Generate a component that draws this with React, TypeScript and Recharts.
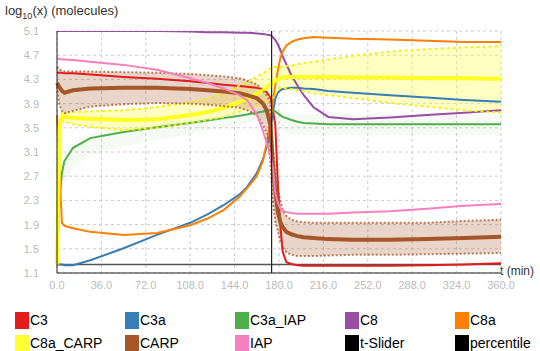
import { ComposedChart, Line, Area, XAxis, YAxis, CartesianGrid, ReferenceLine } from 'recharts';

const times = [0, 2, 4, 6, 13, 27, 54, 81, 108, 122, 135, 148, 154, 162, 167, 170, 173, 175, 177, 179, 181, 183, 186, 190, 195, 200, 208, 220, 240, 270, 300, 330, 360];

const c3 = [4.41, 4.41, 4.41, 4.4, 4.4, 4.38, 4.34, 4.31, 4.27, 4.24, 4.21, 4.19, 4.18, 4.16, 4.14, 4.09, 4.0, 3.8, 3.55, 2.6, 1.9, 1.45, 1.28, 1.25, 1.23, 1.22, 1.22, 1.22, 1.22, 1.22, 1.23, 1.24, 1.26];
const c3a = [1.24, 1.24, 1.24, 1.23, 1.23, 1.31, 1.51, 1.73, 1.93, 2.07, 2.22, 2.4, 2.52, 2.75, 2.98, 3.18, 3.46, 3.75, 3.98, 4.08, 4.12, 4.14, 4.15, 4.16, 4.16, 4.15, 4.14, 4.11, 4.08, 4.04, 4.0, 3.96, 3.93];
const c3aIap = [1.24, 2.3, 2.75, 2.95, 3.17, 3.33, 3.43, 3.51, 3.58, 3.62, 3.66, 3.7, 3.72, 3.75, 3.77, 3.78, 3.79, 3.79, 3.77, 3.74, 3.71, 3.68, 3.66, 3.63, 3.6, 3.58, 3.57, 3.56, 3.56, 3.56, 3.56, 3.56, 3.56];
const c3aIapLo = [1.24, 2.0, 2.4, 2.6, 2.85, 3.05, 3.2, 3.3, 3.4, 3.45, 3.5, 3.55, 3.58, 3.62, 3.65, 3.66, 3.67, 3.66, 3.6, 3.52, 3.47, 3.43, 3.41, 3.39, 3.38, 3.38, 3.38, 3.38, 3.38, 3.38, 3.38, 3.38, 3.38];
const c3aIapHi = [1.24, 2.5, 2.9, 3.05, 3.25, 3.4, 3.5, 3.57, 3.63, 3.67, 3.7, 3.73, 3.75, 3.78, 3.8, 3.81, 3.82, 3.82, 3.8, 3.78, 3.76, 3.75, 3.74, 3.73, 3.73, 3.72, 3.72, 3.72, 3.72, 3.72, 3.72, 3.72, 3.72];
const c8 = [5.1, 5.1, 5.1, 5.1, 5.1, 5.1, 5.1, 5.1, 5.09, 5.08, 5.08, 5.07, 5.07, 5.06, 5.05, 5.04, 5.03, 5.0, 4.95, 4.88, 4.79, 4.68, 4.55, 4.37, 4.2, 4.04, 3.84, 3.68, 3.64, 3.67, 3.71, 3.75, 3.79];
const c8a = [3.71, 2.8, 1.93, 1.88, 1.84, 1.78, 1.73, 1.76, 1.89, 2.0, 2.14, 2.36, 2.5, 2.7, 2.95, 3.25, 3.6, 3.95, 4.2, 4.45, 4.64, 4.76, 4.86, 4.92, 4.96, 4.98, 5.0, 4.99, 4.97, 4.96, 4.94, 4.92, 4.92];
const c8aCarp = [1.24, 3.5, 3.68, 3.68, 3.66, 3.65, 3.63, 3.64, 3.71, 3.76, 3.83, 3.93, 3.98, 4.06, 4.12, 4.17, 4.22, 4.25, 4.28, 4.3, 4.32, 4.33, 4.34, 4.34, 4.34, 4.34, 4.34, 4.34, 4.33, 4.33, 4.32, 4.32, 4.31];
const c8aCarpHi = [1.24, 3.6, 3.74, 3.75, 3.76, 3.77, 3.79, 3.84, 3.93, 3.99, 4.08, 4.2, 4.26, 4.34, 4.4, 4.44, 4.48, 4.5, 4.51, 4.51, 4.5, 4.51, 4.52, 4.53, 4.55, 4.57, 4.59, 4.63, 4.69, 4.76, 4.8, 4.83, 4.85];
const c8aCarpLo = [1.24, 3.4, 3.63, 3.6, 3.56, 3.52, 3.46, 3.5, 3.58, 3.63, 3.68, 3.77, 3.82, 3.86, 3.9, 3.93, 3.96, 4.0, 4.06, 4.12, 4.16, 4.16, 4.15, 4.14, 4.12, 4.1, 4.07, 4.04, 3.99, 3.91, 3.85, 3.79, 3.75];
const carp = [4.24, 4.17, 4.11, 4.08, 4.12, 4.15, 4.16, 4.16, 4.14, 4.12, 4.1, 4.07, 4.04, 3.99, 3.9, 3.79, 3.55, 2.9, 2.45, 2.12, 1.95, 1.86, 1.78, 1.74, 1.71, 1.69, 1.68, 1.66, 1.65, 1.65, 1.66, 1.68, 1.7];
const carpHi = [4.51, 4.47, 4.44, 4.43, 4.43, 4.43, 4.42, 4.41, 4.39, 4.37, 4.35, 4.32, 4.28, 4.22, 4.12, 4.03, 3.92, 3.2, 2.8, 2.5, 2.3, 2.15, 2.04, 1.98, 1.95, 1.94, 1.93, 1.93, 1.93, 1.93, 1.93, 1.96, 1.98];
const carpLo = [4.18, 3.88, 3.78, 3.74, 3.78, 3.85, 3.89, 3.91, 3.9, 3.88, 3.86, 3.83, 3.79, 3.71, 3.55, 3.41, 2.95, 2.3, 1.95, 1.8, 1.63, 1.53, 1.44, 1.4, 1.38, 1.38, 1.38, 1.39, 1.4, 1.4, 1.41, 1.42, 1.43];
const iap = [4.64, 4.64, 4.63, 4.63, 4.62, 4.59, 4.54, 4.46, 4.32, 4.24, 4.15, 4.04, 3.96, 3.72, 3.45, 3.25, 3.05, 2.85, 2.42, 2.27, 2.17, 2.13, 2.11, 2.09, 2.08, 2.08, 2.08, 2.08, 2.1, 2.12, 2.16, 2.21, 2.24];

const xTicks = [0, 36, 72, 108, 144, 180, 216, 252, 288, 324, 360];
const yTicks = [1.1, 1.5, 1.9, 2.3, 2.7, 3.1, 3.5, 3.9, 4.3, 4.7, 5.1];
const sliderTime = 174;
const floorLevel = 1.24;

const legendItems = [
  { name: 'C3', color: '#e41a1c' },
  { name: 'C3a', color: '#377eb8' },
  { name: 'C3a_IAP', color: '#4daf4a' },
  { name: 'C8', color: '#984ea3' },
  { name: 'C8a', color: '#ff7f00' },
  { name: 'C8a_CARP', color: '#ffff33' },
  { name: 'CARP', color: '#a65628' },
  { name: 'IAP', color: '#f781bf' },
  { name: 't-Slider', color: '#000000' },
  { name: 'percentile', color: '#000000' },
];

const data = times.map((t, i) => ({
  t,
  c3: c3[i],
  c3a: c3a[i],
  c3aIap: c3aIap[i],
  greenBand: [c3aIapLo[i], c3aIapHi[i]],
  c8: c8[i],
  c8a: c8a[i],
  c8aCarp: c8aCarp[i],
  c8aCarpHi: c8aCarpHi[i],
  c8aCarpLo: c8aCarpLo[i],
  yellowBand: [c8aCarpLo[i], c8aCarpHi[i]],
  carp: carp[i],
  carpHi: carpHi[i],
  carpLo: carpLo[i],
  brownBand: [carpLo[i], carpHi[i]],
  iap: iap[i],
}));

const font = '"Liberation Sans", Arial, sans-serif';

export default function App() {
  return (
    <div style={{ position: 'absolute', left: 0, top: 0, width: 540, height: 351, fontFamily: font, overflow: 'hidden' }}>
      <div style={{ position: 'absolute', left: 5, top: 3, fontSize: 13, color: '#333', lineHeight: '16px' }}>
        log<sub style={{ fontSize: 9 }}>10</sub>(x) (molecules)
      </div>
      <div style={{ position: 'absolute', left: 500, top: 264, fontSize: 12, color: '#333', whiteSpace: 'nowrap' }}>t (min)</div>
      <ComposedChart width={540} height={351} data={data} margin={{ top: 31, right: 39, bottom: 48, left: 0 }}>
        <CartesianGrid stroke="#ccc" strokeDasharray="3 3" />
        <XAxis
          dataKey="t"
          type="number"
          domain={[0, 360]}
          ticks={xTicks}
          tickFormatter={(v: number) => v.toFixed(1)}
          tick={{ fontSize: 11, fill: '#bbb', fontFamily: font }}
          tickLine={false}
          axisLine={{ stroke: '#222' }}
          height={30}
        />
        <YAxis
          type="number"
          domain={[1.1, 5.1]}
          ticks={yTicks}
          allowDataOverflow
          tickFormatter={(v: number) => v.toFixed(1)}
          tick={{ fontSize: 11, fill: '#bbb', fontFamily: font }}
          tickLine={false}
          tickSize={0}
          tickMargin={18}
          axisLine={{ stroke: '#222' }}
          width={57}
        />
        <Area dataKey="greenBand" type="linear" stroke="none" fill="#4daf4a" fillOpacity={0.06} isAnimationActive={false} />
        <Area dataKey="yellowBand" type="linear" stroke="none" fill="#ffff33" fillOpacity={0.3} isAnimationActive={false} />
        <Area dataKey="brownBand" type="linear" stroke="none" fill="#a65628" fillOpacity={0.25} isAnimationActive={false} />
        <ReferenceLine y={floorLevel} stroke="#555" strokeWidth={1.5} />
        <Line dataKey="c3" type="linear" stroke="#e41a1c" strokeWidth={2} dot={false} activeDot={false} isAnimationActive={false} />
        <Line dataKey="c3a" type="linear" stroke="#377eb8" strokeWidth={2} dot={false} activeDot={false} isAnimationActive={false} />
        <Line dataKey="c3aIap" type="linear" stroke="#4daf4a" strokeWidth={2} dot={false} activeDot={false} isAnimationActive={false} />
        <Line dataKey="c8" type="linear" stroke="#984ea3" strokeWidth={2} dot={false} activeDot={false} isAnimationActive={false} />
        <Line dataKey="c8a" type="linear" stroke="#ff7f00" strokeWidth={2} dot={false} activeDot={false} isAnimationActive={false} />
        <Line dataKey="c8aCarpHi" type="linear" stroke="#f5ee1a" strokeWidth={2} strokeDasharray="3 3" dot={false} activeDot={false} isAnimationActive={false} />
        <Line dataKey="c8aCarpLo" type="linear" stroke="#f5ee1a" strokeWidth={2} strokeDasharray="3 3" dot={false} activeDot={false} isAnimationActive={false} />
        <Line dataKey="c8aCarp" type="linear" stroke="#ffff22" strokeWidth={4} dot={false} activeDot={false} isAnimationActive={false} />
        <Line dataKey="carpHi" type="linear" stroke="#a65628" strokeOpacity={0.75} strokeWidth={2} strokeDasharray="2 2" dot={false} activeDot={false} isAnimationActive={false} />
        <Line dataKey="carpLo" type="linear" stroke="#a65628" strokeOpacity={0.75} strokeWidth={2} strokeDasharray="2 2" dot={false} activeDot={false} isAnimationActive={false} />
        <Line dataKey="carp" type="linear" stroke="#a65628" strokeWidth={4} dot={false} activeDot={false} isAnimationActive={false} />
        <Line dataKey="iap" type="linear" stroke="#f781bf" strokeWidth={2} dot={false} activeDot={false} isAnimationActive={false} />
        <ReferenceLine x={sliderTime} stroke="#222" strokeWidth={1.2} />
      </ComposedChart>
      <div style={{ position: 'absolute', left: 15, top: 312, width: 560, display: 'flex', flexWrap: 'wrap', rowGap: 6 }}>
        {legendItems.map((item) => (
          <div key={item.name} style={{ width: 110, height: 17, display: 'flex', alignItems: 'center', fontSize: 14, lineHeight: '17px', color: '#000' }}>
            <span style={{ display: 'inline-block', width: 14, height: 17, background: item.color, marginRight: 1, flexShrink: 0 }} />
            {item.name}
          </div>
        ))}
      </div>
    </div>
  );
}
